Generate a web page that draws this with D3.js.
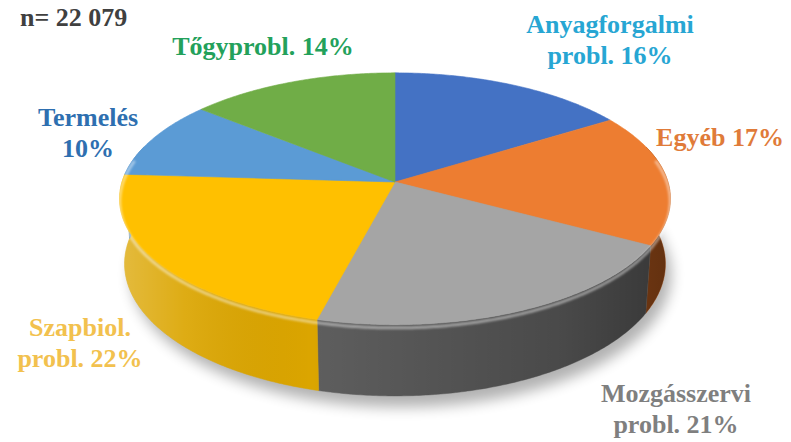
<!DOCTYPE html>
<html>
<head>
<meta charset="utf-8">
<script src="https://cdn.jsdelivr.net/npm/d3@7"></script>
<style>
  body { margin: 0; background: #fff; }
</style>
</head>
<body>
<div id="chart"></div>
<script>
// data (clockwise from 12 o'clock)
var categories = ["Anyagforgalmi probl.", "Egyéb", "Mozgásszervi probl.", "Szapbiol. probl.", "Termelés", "Tőgyprobl."];
var values = [16, 17, 21, 22, 10, 14];
var labelLines = [["Anyagforgalmi", "probl. 16%"], ["Egyéb 17%"], ["Mozgásszervi", "probl. 21%"],
                  ["Szapbiol.", "probl. 22%"], ["Termelés", "10%"], ["Tőgyprobl. 14%"]];
var total = "n= 22 079";

// styles
var colors = ["#4472C4", "#ED7D31", "#A5A5A5", "#FFC000", "#5B9BD5", "#70AD47"];
var sideColors = ["#2f5597", "#a9531b", "#5e5e5e", "#dba500", "#3f7cb8", "#4f8a2f"];
var labelColors = ["#27a6d3", "#e07b39", "#7f7f7f", "#f2c14e", "#2e6fb0", "#23a15b"];
// label anchors (centre x, first baseline)
var labelPos = [[610, 33], [720, 146], [676, 402], [80, 336], [88, 126], [263, 55]];
var fontFam = "'Liberation Serif'";

var width = 791, height = 442;
var svg = d3.select("#chart").append("svg").attr("width", width).attr("height", height);
var defs = svg.append("defs");

// simple perspective projection of a disc lying flat
var cx = 395, cy = 182, D = 6.7, f = 1829, sinT = 0.453, cosT = Math.sqrt(1 - sinT * sinT), depth = 0.27;
function project(a, z) {
  var X = Math.sin(a), Y = Math.cos(a);
  var up = Y * sinT + z * cosT, fwd = Y * cosT - z * sinT;
  return [cx + f * X / (D + fwd), cy - f * up / (D + fwd)];
}
function rim(a0, a1, z) {
  var n = Math.max(2, Math.ceil((a1 - a0) / 0.01));
  return d3.range(n + 1).map(function(i) { return project(a0 + (a1 - a0) * i / n, z); });
}
var line = d3.line();

var pie = d3.pie().sort(null).value(function(d) { return d; });
var arcs = pie(values);

// shadow
defs.append("filter").attr("id", "blur").attr("x", "-20%").attr("y", "-20%").attr("width", "140%").attr("height", "140%")
  .append("feGaussianBlur").attr("stdDeviation", 7);
svg.append("path")
  .attr("d", line(rim(0, 2 * Math.PI, -depth - 0.02).map(function(p) { return [p[0] + 6, p[1] + 6]; })) + "Z")
  .attr("fill", "#000").attr("opacity", 0.3).attr("filter", "url(#blur)");

// side shading
var g1 = defs.append("linearGradient").attr("id", "sideShade").attr("gradientUnits", "userSpaceOnUse")
  .attr("x1", 118).attr("x2", 672).attr("y1", 0).attr("y2", 0);
[[0, "#fff", 0.25], [0.12, "#fff", 0.08], [0.35, "#000", 0.0], [0.8, "#000", 0.22], [1, "#000", 0.42]].forEach(function(s) {
  g1.append("stop").attr("offset", s[0]).attr("stop-color", s[1]).attr("stop-opacity", s[2]);
});

var lo = Math.PI / 2 - 0.3, hi = 3 * Math.PI / 2 + 0.3;
var sides = svg.append("g");
arcs.forEach(function(d, i) {
  var a0 = Math.max(d.startAngle, lo), a1 = Math.min(d.endAngle, hi);
  if (a1 <= a0) return;
  var pts = rim(a0, a1, 0).concat(rim(a0, a1, -depth).reverse());
  sides.append("path").attr("d", line(pts) + "Z").attr("fill", sideColors[i]).attr("stroke", sideColors[i]).attr("stroke-width", 0.5);
  sides.append("path").attr("d", line(pts) + "Z").attr("fill", "url(#sideShade)");
});

// top surfaces (apex at the disc centre)
var tops = svg.append("g");
arcs.forEach(function(d, i) {
  var pts = [[cx, cy]].concat(rim(d.startAngle, d.endAngle, 0));
  tops.append("path").attr("d", line(pts) + "Z").attr("fill", colors[i]).attr("stroke", colors[i]).attr("stroke-width", 0.6);
});

// bevel highlight on the front rim
defs.append("filter").attr("id", "soft").append("feGaussianBlur").attr("stdDeviation", 1.2);
svg.append("path")
  .attr("d", line(rim(Math.PI / 2 - 0.2, 3 * Math.PI / 2 + 0.2, -0.012)))
  .attr("fill", "none").attr("stroke", "#fff").attr("stroke-opacity", 0.45).attr("stroke-width", 3)
  .attr("filter", "url(#soft)");

// labels
svg.append("text").attr("x", 20).attr("y", 26).attr("font-size", 26).attr("font-weight", "bold")
  .style("font-family", fontFam).attr("fill", "#404040").text(total);

labelLines.forEach(function(ls, i) {
  var t = svg.append("text").attr("fill", labelColors[i]).attr("font-size", 26).attr("font-weight", "bold")
    .attr("text-anchor", "middle").style("font-family", fontFam);
  ls.forEach(function(s, j) {
    t.append("tspan").attr("x", labelPos[i][0]).attr("y", labelPos[i][1] + j * 31).text(s);
  });
});
</script>
</body>
</html>
